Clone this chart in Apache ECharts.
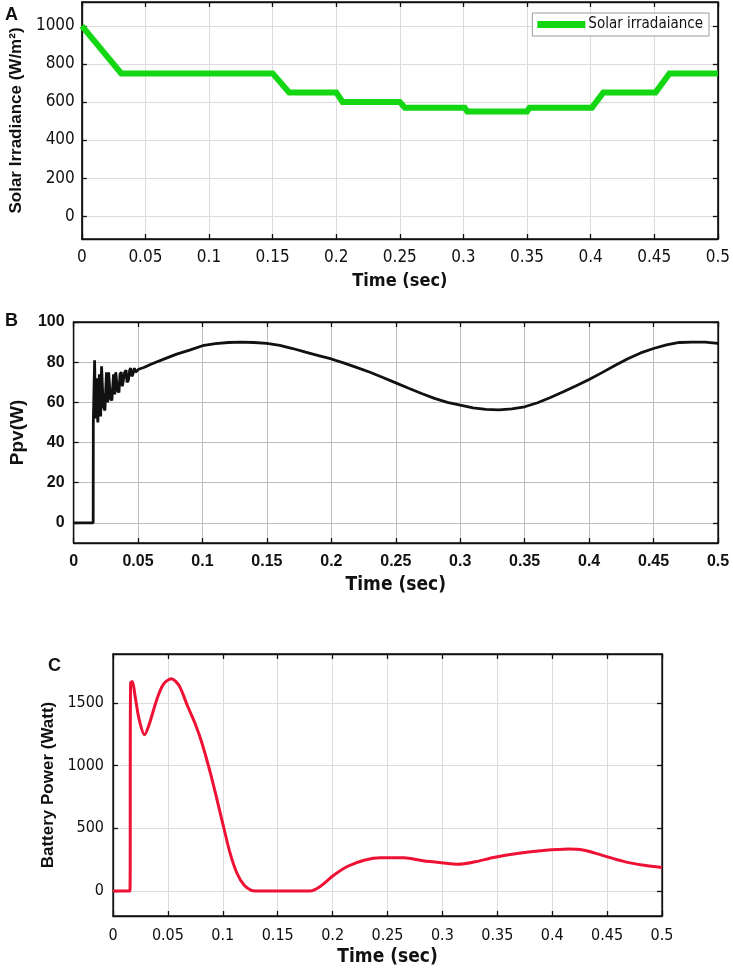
<!DOCTYPE html>
<html>
<head>
<meta charset="utf-8">
<script src="https://cdn.jsdelivr.net/npm/echarts@6/dist/echarts.min.js"></script>
<style>
  html, body { margin: 0; padding: 0; background: #fff; }
  #chart { width: 733px; height: 969px; }
</style>
</head>
<body>
<div id="chart"></div>
<script>
// panel A: solar irradiance step profile
const irrTime = [0, 0.031, 0.150, 0.163, 0.200, 0.205, 0.250, 0.254, 0.301, 0.303, 0.350, 0.352, 0.401, 0.410, 0.451, 0.462, 0.5];
const irrValue = [1000, 750, 750, 650, 650, 600, 600, 570, 570, 550, 550, 570, 570, 650, 650, 750, 750];

// panel B: PV power
const ppvTime = [0, 0.0152, 0.0153, 0.0163, 0.0170, 0.0178, 0.0188, 0.0200, 0.0210, 0.0217, 0.0230, 0.0243, 0.0255,
  0.0265, 0.0272, 0.0285, 0.0297, 0.0310, 0.0320, 0.0327, 0.0340, 0.0352, 0.0360, 0.0370, 0.0378, 0.0388, 0.0397,
  0.0407, 0.0415, 0.0425, 0.0435, 0.0443, 0.0452, 0.0460, 0.0472, 0.0480, 0.0505, 0.055, 0.06, 0.07, 0.08, 0.09,
  0.10, 0.11, 0.12, 0.13, 0.14, 0.15, 0.16, 0.17, 0.18, 0.19, 0.20, 0.21, 0.22, 0.23, 0.24, 0.25, 0.26, 0.27, 0.28,
  0.29, 0.30, 0.31, 0.32, 0.33, 0.34, 0.35, 0.36, 0.37, 0.38, 0.39, 0.40, 0.41, 0.42, 0.43, 0.44, 0.45, 0.46, 0.47,
  0.48, 0.49, 0.50];
const ppvValue = [0, 0, 50, 81, 52, 72, 50, 74, 53, 78, 58, 56, 75,
  60, 75, 62, 61, 74, 64, 75, 66, 65, 74, 75, 68, 68, 75,
  76, 70, 71, 76, 77, 73, 74, 77, 75, 76.5, 77.5, 79, 81.5, 84, 86,
  88.2, 89.2, 89.8, 90, 89.8, 89.4, 88.4, 86.8, 85, 83.3, 81.6, 79.5, 77.3, 75, 72.4, 69.7, 67, 64.4, 62,
  60, 58.6, 57.3, 56.5, 56.3, 56.8, 57.8, 59.8, 62.4, 65.3, 68.3, 71.4, 74.8, 78.3, 81.7, 84.6, 86.8, 88.6, 89.8,
  90, 90, 89.4];

// panel C: battery power
const batTime = [0, 0.0154, 0.0160, 0.0176, 0.0200, 0.0240, 0.0287, 0.0330, 0.0400, 0.0460, 0.0531, 0.0600,
  0.068, 0.075, 0.081, 0.0895, 0.1003, 0.1067, 0.113, 0.1195, 0.126, 0.130, 0.1795, 0.188, 0.201, 0.2138,
  0.2288, 0.2438, 0.265, 0.2823, 0.2995, 0.3145, 0.3295, 0.3466, 0.368, 0.3895, 0.415, 0.428, 0.445, 0.4666,
  0.4837, 0.5];
const batValue = [0, 0, 1660, 1670, 1560, 1360, 1246, 1330, 1530, 1650, 1692, 1640,
  1473, 1330, 1180, 913, 526, 299, 139, 45, 5, 0, 0, 32, 125, 197,
  245, 264, 264, 240, 224, 213, 232, 267, 299, 320, 334, 326, 286, 232,
  205, 187];

const timeMin = 0;
const timeMax = 0.5;
const timeStep = 0.05;
const irrTicks = [0, 200, 400, 600, 800, 1000];
const ppvTicks = [0, 20, 40, 60, 80, 100];
const batTicks = [0, 500, 1000, 1500];

const NARROW = '"Liberation Sans Narrow", "Arial Narrow", "DejaVu Sans Condensed", sans-serif';
const SANS = '"Liberation Sans", Arial, Helvetica, sans-serif';

const zip = (xs, ys) => xs.map((x, i) => [x, ys[i]]);
const plain = (v) => String(v);

// one panel = bottom/left axes with labels + top/right axes that only carry ticks
function panelAxes(grid, yMin, yMax, yTicks, cfg) {
  const line = { show: true, onZero: false, lineStyle: { color: '#111', width: 1.3 } };
  const tick = { inside: true, length: 5, lineStyle: { color: '#111', width: 1.3 } };
  const xBase = { type: 'value', gridIndex: grid, min: timeMin, max: timeMax, interval: timeStep, axisLine: line };
  const yBase = { type: 'value', gridIndex: grid, min: yMin, max: yMax, axisLine: line };
  const xAxes = [
    Object.assign({}, xBase, {
      position: 'bottom',
      name: 'Time (sec)',
      nameLocation: 'middle',
      nameGap: cfg.xNameGap,
      nameTextStyle: { fontFamily: cfg.xNameFont, fontWeight: 'bold', fontSize: cfg.xNameSize, color: '#111' },
      axisTick: tick,
      axisLabel: { margin: cfg.xLabelMargin, formatter: plain, fontFamily: cfg.labelFont, fontWeight: cfg.labelWeight, fontSize: cfg.labelSize, color: '#111' },
      splitLine: { show: true, lineStyle: { color: cfg.gridColor, width: 1 } },
    }),
    Object.assign({}, xBase, {
      position: 'top',
      axisTick: tick,
      axisLabel: { show: false },
      splitLine: { show: false },
    }),
  ];
  const yAxes = [
    Object.assign({}, yBase, {
      position: 'left',
      name: cfg.yName,
      nameLocation: 'middle',
      nameGap: cfg.yNameGap,
      nameTextStyle: { fontFamily: SANS, fontWeight: 'bold', fontSize: cfg.yNameSize, color: '#111' },
      axisTick: Object.assign({ customValues: yTicks }, tick),
      axisLabel: { customValues: yTicks, formatter: plain, margin: cfg.yLabelMargin, fontFamily: cfg.labelFont, fontWeight: cfg.labelWeight, fontSize: cfg.labelSize, color: '#111' },
      splitLine: { show: true, lineStyle: { color: cfg.gridColor, width: 1 } },
    }),
    Object.assign({}, yBase, {
      position: 'right',
      axisTick: Object.assign({ customValues: yTicks }, tick),
      axisLabel: { show: false, customValues: yTicks },
      splitLine: { show: false },
    }),
  ];
  return { xAxes, yAxes };
}

const axA = panelAxes(0, -120, 1125, irrTicks, {
  yName: 'Solar Irradiance (W/m²)', yNameGap: 45, yNameSize: 17,
  xNameGap: 33, xNameSize: 18, xNameFont: NARROW,
  labelFont: NARROW, labelWeight: 'normal', labelSize: 17,
  xLabelMargin: 10, yLabelMargin: 7, gridColor: '#dcdcdc',
});
const axB = panelAxes(1, -10, 100, ppvTicks, {
  yName: 'Ppv(W)', yNameGap: 44, yNameSize: 19,
  xNameGap: 33, xNameSize: 19, xNameFont: NARROW,
  labelFont: SANS, labelWeight: 'bold', labelSize: 16,
  xLabelMargin: 11, yLabelMargin: 9, gridColor: '#bdbdbd',
});
const axC = panelAxes(2, -200, 1890, batTicks, {
  yName: 'Battery Power (Watt)', yNameGap: 50, yNameSize: 17,
  xNameGap: 32, xNameSize: 19, xNameFont: NARROW,
  labelFont: NARROW, labelWeight: 'normal', labelSize: 16,
  xLabelMargin: 12, yLabelMargin: 9, gridColor: '#dcdcdc',
});

const chart = echarts.init(document.getElementById('chart'), null, { renderer: 'canvas' });
chart.setOption({
  animation: false,
  backgroundColor: '#fff',
  grid: [
    { left: 80, top: 2, width: 641, height: 237, show: true, borderColor: '#111', borderWidth: 1.3 },
    { left: 72, top: 322, width: 646, height: 221, show: true, borderColor: '#111', borderWidth: 1.3 },
    { left: 113, top: 654, width: 549, height: 262, show: true, borderColor: '#111', borderWidth: 1.3 },
  ],
  xAxis: [].concat(axA.xAxes, axB.xAxes, axC.xAxes),
  yAxis: [].concat(axA.yAxes, axB.yAxes, axC.yAxes),
  legend: {
    data: ['Solar irradaiance'],
    right: 24,
    top: 13,
    backgroundColor: '#fff',
    borderColor: '#9a9a9a',
    borderWidth: 1,
    borderRadius: 0,
    padding: [4, 6, 4, 5],
    icon: 'rect',
    itemWidth: 48,
    itemHeight: 7,
    itemGap: 4,
    textStyle: { fontFamily: NARROW, fontSize: 15, color: '#111', padding: [0, 0, 0, -2] },
  },
  graphic: [
    { type: 'text', left: 5, top: 6, style: { text: 'A', font: 'bold 18px ' + SANS, fill: '#111' } },
    { type: 'text', left: 5, top: 312, style: { text: 'B', font: 'bold 18px ' + SANS, fill: '#111' } },
    { type: 'text', left: 48, top: 657, style: { text: 'C', font: 'bold 18px ' + SANS, fill: '#111' } },
  ],
  series: [
    {
      name: 'Solar irradaiance',
      type: 'line',
      xAxisIndex: 0,
      yAxisIndex: 0,
      showSymbol: false,
      lineStyle: { color: '#12d712', width: 6, join: 'miter' },
      itemStyle: { color: '#12d712' },
      data: zip(irrTime, irrValue),
    },
    {
      name: 'Ppv',
      type: 'line',
      xAxisIndex: 2,
      yAxisIndex: 2,
      showSymbol: false,
      lineStyle: { color: '#111', width: 2.8 },
      itemStyle: { color: '#111' },
      data: zip(ppvTime, ppvValue),
    },
    {
      name: 'Battery Power',
      type: 'line',
      xAxisIndex: 4,
      yAxisIndex: 4,
      showSymbol: false,
      smooth: 0.3,
      lineStyle: { color: '#ee1133', width: 3 },
      itemStyle: { color: '#ee1133' },
      data: zip(batTime, batValue),
    },
  ],
});
</script>
</body>
</html>
